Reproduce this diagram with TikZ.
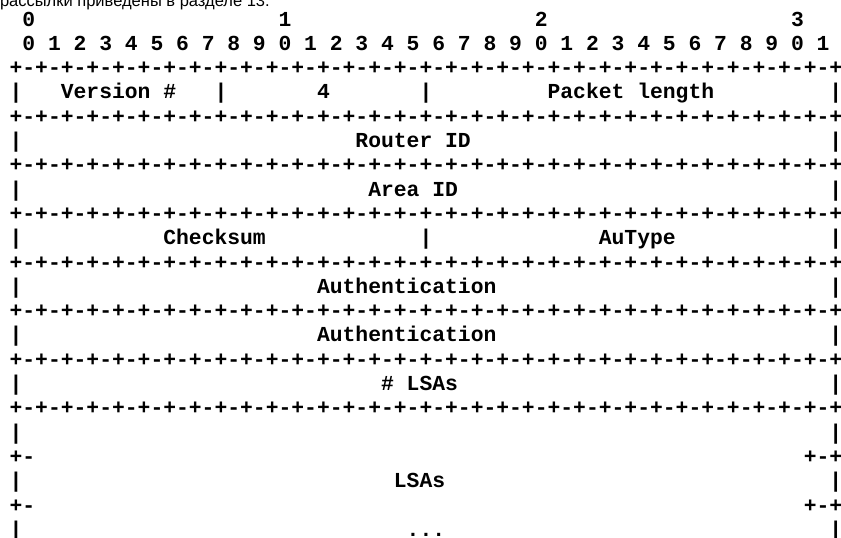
\documentclass[tikz,border=0pt]{standalone}
\usepackage{fontspec}
\setmonofont{Liberation Mono}
\newfontfamily\capfont{Liberation Sans}

\newcommand{\fullrule}{+-+-+-+-+-+-+-+-+-+-+-+-+-+-+-+-+-+-+-+-+-+-+-+-+-+-+-+-+-+-+-+-+}

\begin{document}
\begin{tikzpicture}[x=1pt, y=-1pt,
    asc/.style={anchor=base west, inner sep=0pt, outer sep=0pt,
        font=\fontsize{21.35}{24.3}\selectfont\ttfamily\bfseries},
    capline/.style={anchor=base west, inner sep=0pt, outer sep=0pt,
        font=\fontsize{16.5}{19}\selectfont\capfont}]

    % page frame (top line of the text is cut off)
    \useasboundingbox (0,0) rectangle (841,538);
    \clip (0,0) rectangle (841,538);

    \node[capline] (caption) at (0,6.5) {рассылки приведены в разделе 13.};

    % character grid: x = column, y = line
    \begin{scope}[shift={(9.6pt,-26pt)}, x=12.81pt, y=-24.3pt]

        % bit ruler
        \foreach \d in {0,...,3}
            \node[asc] (tens\d) at ({1+20*\d},0) {\d};
        \foreach \b in {0,...,31} {
            \pgfmathtruncatemacro\u{mod(\b,10)}
            \node[asc] (bit\b) at ({1+2*\b},1) {\u};
        }

        % +-+ separator lines
        \foreach \k in {2,4,...,16}
            \node[asc] (rule\k) at (0,\k) {\fullrule};

        % outer bars
        \foreach \k in {3,5,...,21} {
            \node[asc] (left\k) at (0,\k) {|};
            \node[asc] (right\k) at (64,\k) {|};
        }
        \node[asc] (bar3a) at (16,3) {|};
        \node[asc] (bar3b) at (32,3) {|};
        \node[asc] (bar9) at (32,9) {|};

        % fields
        \node[asc] (version) at (4,3) {Version \#};
        \node[asc] (type) at (24,3) {4};
        \node[asc] (pktlen) at (42,3) {Packet length};
        \node[asc] (router) at (27,5) {Router ID};
        \node[asc] (area) at (28,7) {Area ID};
        \node[asc] (cksum) at (12,9) {Checksum};
        \node[asc] (autype) at (46,9) {AuType};
        \node[asc] (auth1) at (24,11) {Authentication};
        \node[asc] (auth2) at (24,13) {Authentication};
        \node[asc] (nlsa) at (29,15) {\# LSAs};

        % open-ended LSA area
        \foreach \k in {18,20} {
            \node[asc] (open\k) at (0,\k) {+-};
            \node[asc] (close\k) at (62,\k) {+-+};
        }
        \node[asc] (lsas) at (30,19) {LSAs};
        \node[asc] (dots) at (31,21) {...};

    \end{scope}
\end{tikzpicture}
\end{document}
